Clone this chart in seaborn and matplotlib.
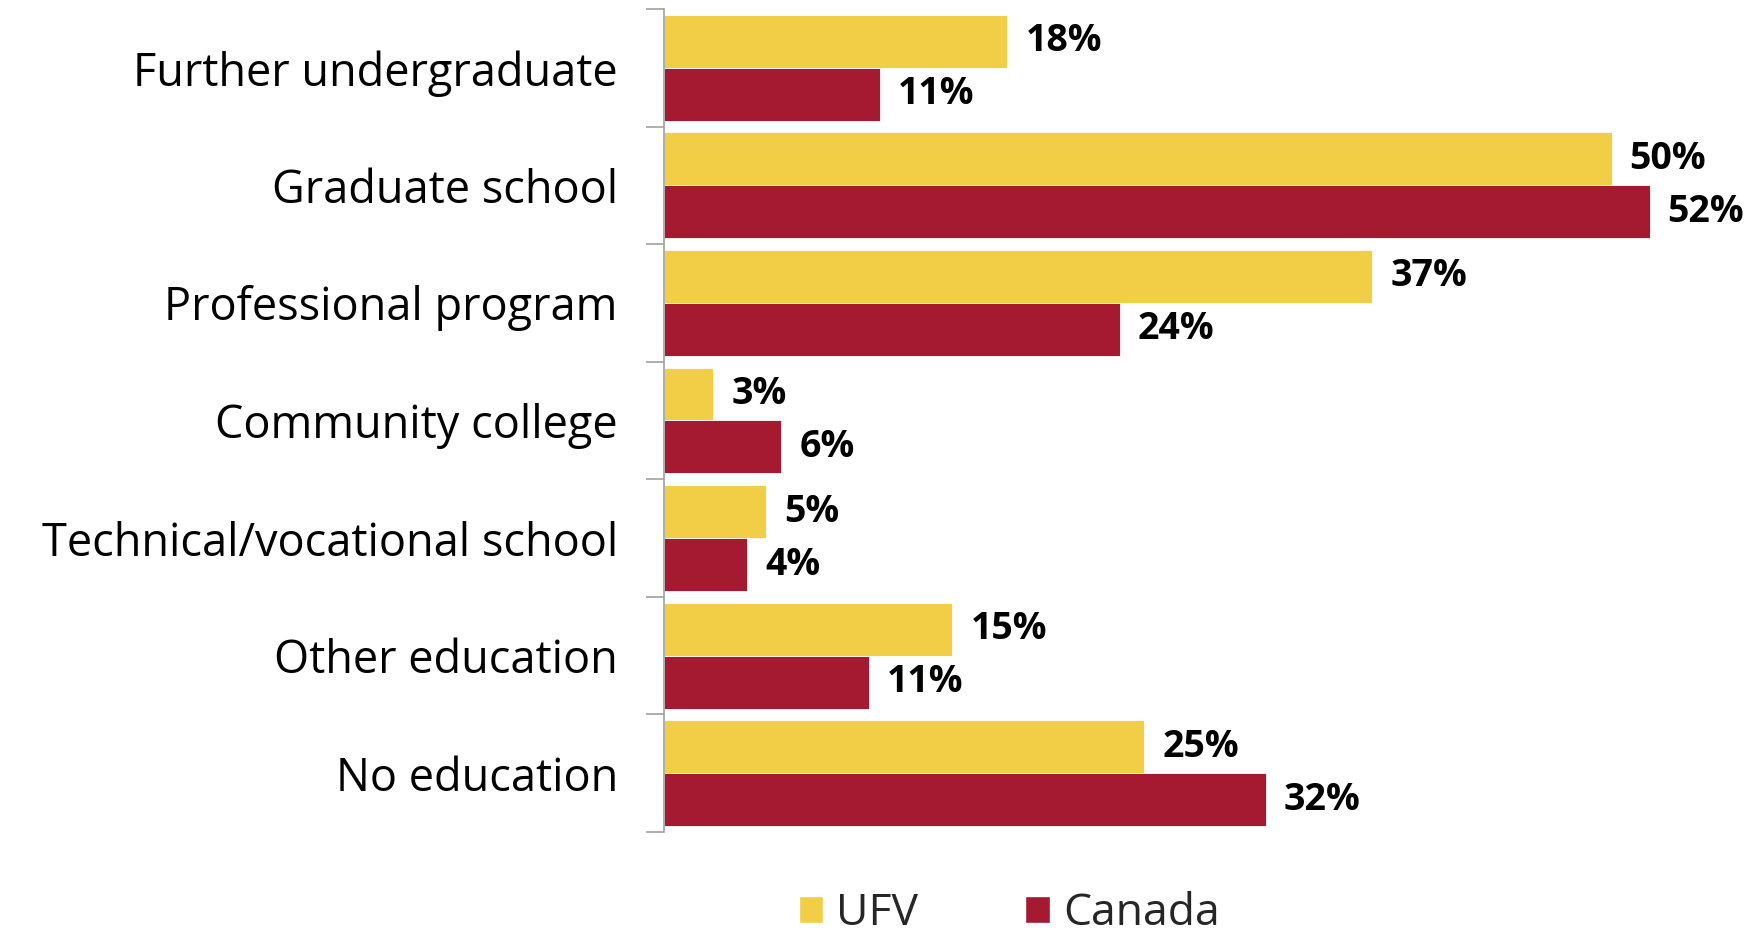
import pandas as pd
import matplotlib.pyplot as plt
import seaborn as sns
from matplotlib.patches import Patch

# Data (percent; labels are rounded)
categories = ['Further undergraduate', 'Graduate school', 'Professional program',
              'Community college', 'Technical/vocational school', 'Other education',
              'No education']
ufv = [18.1, 49.9, 37.3, 2.6, 5.4, 15.2, 25.3]
canada = [11.4, 51.9, 24.0, 6.2, 4.4, 10.8, 31.7]
groups = ['UFV', 'Canada']
colors = ['#F2CE46', '#A51931']

df = pd.DataFrame({
    'category': categories * 2,
    'value': ufv + canada,
    'group': ['UFV'] * len(categories) + ['Canada'] * len(categories),
})

sns.set_theme(style='white')
plt.rcParams['font.family'] = ['Open Sans', 'DejaVu Sans']

fig = plt.figure(figsize=(17.52, 9.34), dpi=100)
ax = fig.add_axes([0.3788, 0.1092, 0.618, 0.8812])

sns.barplot(data=df, y='category', x='value', hue='group', order=categories,
            hue_order=groups, palette=colors, saturation=1, width=0.9, orient='h',
            edgecolor='white', linewidth=0.6, ax=ax, legend=False)

for cont in ax.containers:
    ax.bar_label(cont, labels=[f'{v:.0f}%' for v in cont.datavalues],
                 padding=13, fontsize=27, fontweight='bold', color='black')

ax.set_xlim(0, 57)
ax.set_ylim(len(categories) - 0.5, -0.5)
ax.set_xlabel('')
ax.set_ylabel('')
ax.set_xticks([])

# ticks at category boundaries
ax.set_yticks([i - 0.5 for i in range(len(categories) + 1)], minor=True)
ax.tick_params(axis='y', which='minor', length=13, width=1.2, color='#A0A0A0', left=True)
ax.tick_params(axis='y', which='major', length=0, pad=33, labelsize=32.5, labelcolor='black')

for s in ['top', 'right', 'bottom']:
    ax.spines[s].set_visible(False)
ax.spines['left'].set_color('#A0A0A0')
ax.spines['left'].set_linewidth(1.2)

handles = [Patch(facecolor=c, label=g) for g, c in zip(groups, colors)]
fig.legend(handles=handles, loc='lower center', bbox_to_anchor=(0.576, -0.045),
           ncol=2, frameon=False, fontsize=32, handlelength=0.55, handleheight=0.55,
           handletextpad=0.3, columnspacing=2.4)

plt.savefig('out.png', dpi=100)
